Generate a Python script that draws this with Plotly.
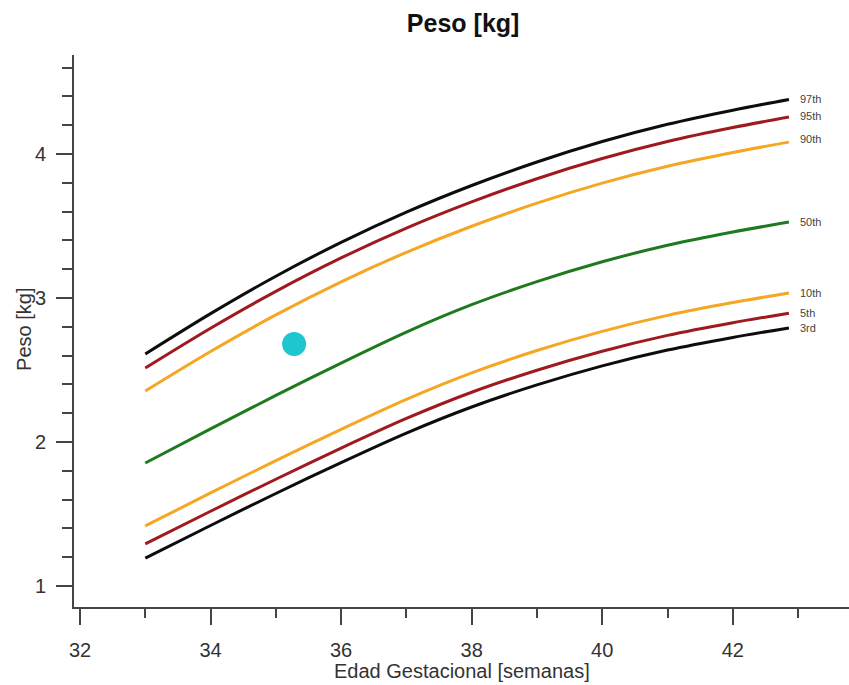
import plotly.graph_objects as go

weeks = [33, 34, 35, 36, 37, 38, 39, 40, 41, 42, 42.86]

p97 = [2.611, 2.891, 3.151, 3.386, 3.596, 3.781, 3.944, 4.086, 4.206, 4.304, 4.378]
p95 = [2.514, 2.790, 3.046, 3.278, 3.485, 3.667, 3.828, 3.968, 4.086, 4.183, 4.256]
p90 = [2.354, 2.628, 2.882, 3.112, 3.317, 3.498, 3.658, 3.797, 3.914, 4.010, 4.082]
p50 = [1.854, 2.091, 2.323, 2.548, 2.763, 2.953, 3.113, 3.251, 3.366, 3.458, 3.527]
p10 = [1.417, 1.646, 1.870, 2.088, 2.296, 2.480, 2.635, 2.768, 2.879, 2.968, 3.035]
p5 = [1.292, 1.519, 1.741, 1.957, 2.163, 2.345, 2.498, 2.630, 2.740, 2.828, 2.894]
p3 = [1.194, 1.420, 1.642, 1.857, 2.062, 2.243, 2.396, 2.528, 2.638, 2.726, 2.792]

series_names = ["97th", "95th", "90th", "50th", "10th", "5th", "3rd"]
series_values = [p97, p95, p90, p50, p10, p5, p3]
series_colors = ["#0d0d0d", "#9e1a1f", "#f5a623", "#1f7a1f", "#f5a623", "#9e1a1f", "#0d0d0d"]
label_offsets = [1, 1, 3, 0, 0, 0, 0]

patient_week = [35.28]
patient_weight = [2.68]

FONT = "Liberation Sans, Arial"

fig = go.Figure()
for name, vals, col in zip(series_names, series_values, series_colors):
    fig.add_trace(go.Scatter(x=weeks, y=vals, mode="lines", name=name,
                             line=dict(color=col, width=3, shape="spline", smoothing=0.8),
                             showlegend=False, hoverinfo="skip"))

fig.add_trace(go.Scatter(x=patient_week, y=patient_weight, mode="markers",
                         marker=dict(color="#1ec6cf", size=24), showlegend=False))

annotations = []
for name, vals, off in zip(series_names, series_values, label_offsets):
    annotations.append(dict(x=weeks[-1] + 0.14, y=vals[-1], xref="x", yref="y",
                            text=name, showarrow=False, xanchor="left", yanchor="middle",
                            yshift=off,
                            font=dict(family=FONT, size=11, color="#444444")))

annotations.append(dict(x=0.5, y=-0.1165, xref="paper", yref="paper",
                        text="Edad Gestacional [semanas]", showarrow=False,
                        xanchor="center", yanchor="middle",
                        font=dict(family=FONT, size=20, color="#333333")))
annotations.append(dict(x=-0.0645, y=0.502, xref="paper", yref="paper",
                        text="Peso [kg]", showarrow=False, textangle=-90,
                        xanchor="center", yanchor="middle",
                        font=dict(family=FONT, size=20, color="#333333")))

fig.update_layout(
    width=849, height=685,
    margin=dict(l=74, r=0, t=55, b=78),
    paper_bgcolor="white", plot_bgcolor="white",
    title=dict(text="<b>Peso [kg]</b>", x=0.5455, xanchor="center", y=0.966, yanchor="middle",
               font=dict(family=FONT, size=25, color="#111111")),
    annotations=annotations,
    xaxis=dict(range=[31.908, 43.78], showgrid=False, zeroline=False,
               showline=True, linecolor="#444444", linewidth=2,
               ticks="outside", ticklen=16, tickwidth=2, tickcolor="#444444",
               tickmode="linear", tick0=32, dtick=2,
               ticklabelstandoff=8,
               minor=dict(ticks="outside", ticklen=9, tickwidth=2, tickcolor="#444444",
                          dtick=1, tick0=33, showgrid=False),
               tickfont=dict(family=FONT, size=20, color="#333333")),
    yaxis=dict(range=[0.854, 4.687], showgrid=False, zeroline=False,
               showline=True, linecolor="#444444", linewidth=2,
               ticks="outside", ticklen=16, tickwidth=2, tickcolor="#444444",
               tickmode="linear", tick0=1, dtick=1,
               ticklabelstandoff=6,
               minor=dict(ticks="outside", ticklen=10, tickwidth=2, tickcolor="#444444",
                          dtick=0.2, tick0=1, showgrid=False),
               tickfont=dict(family=FONT, size=20, color="#333333")),
)

fig.write_html("out.html")
